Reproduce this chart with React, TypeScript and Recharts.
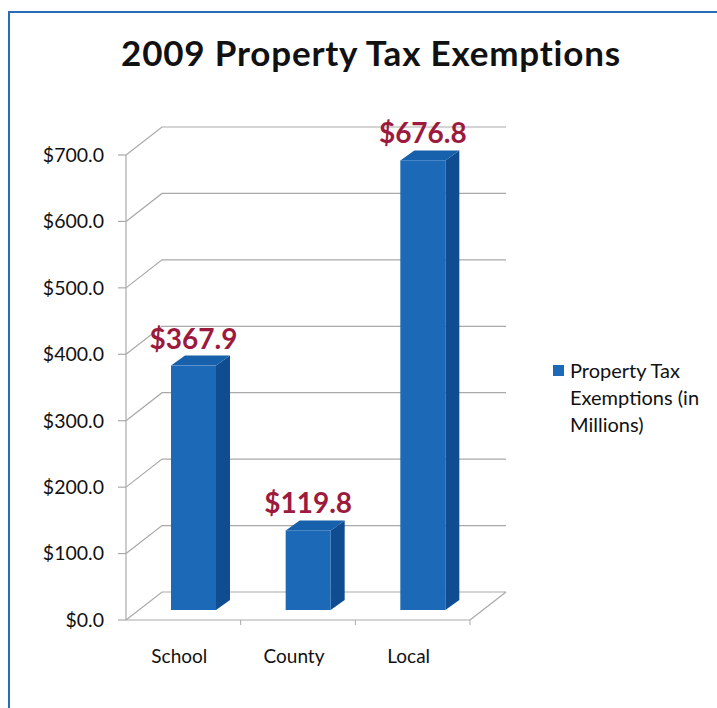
import React from 'react';
import { BarChart, Bar, XAxis, YAxis, CartesianGrid, Legend, LabelList } from 'recharts';

const categories = ['School', 'County', 'Local'];
const values = [367.9, 119.8, 676.8];
const yTicks = [0, 100, 200, 300, 400, 500, 600, 700];
const seriesName = 'Property Tax Exemptions (in Millions)';
const title = '2009 Property Tax Exemptions';

const data = categories.map((c, i) => ({ name: c, value: values[i] }));

const FONT = 'Lato, "Liberation Sans", sans-serif';
const GRID = '#a9a9a9';
const WALL_DX = 36;
const WALL_DY = -28;
const BAR_DX = 10;
const BAR_DY = -10;
const DEPTH_X = 14;
const DEPTH_Y = -10;
const PLOT_BOTTOM = 620;

const Bar3D = (props: any) => {
  const { x, y, width, height } = props;
  const fx = x + BAR_DX;
  const fy = y + BAR_DY;
  const w = width;
  const h = height;
  return (
    <g>
      <polygon
        points={`${fx + w},${fy} ${fx + w + DEPTH_X},${fy + DEPTH_Y} ${fx + w + DEPTH_X},${fy + h + DEPTH_Y} ${fx + w},${fy + h}`}
        fill="#0f4d90"
      />
      <polygon
        points={`${fx},${fy} ${fx + DEPTH_X},${fy + DEPTH_Y} ${fx + w + DEPTH_X},${fy + DEPTH_Y} ${fx + w},${fy}`}
        fill="#1760ab"
      />
      <rect x={fx} y={fy} width={w} height={h} fill="#1c69b8" />
    </g>
  );
};

const renderLabel = (props: any) => {
  const { x, y, width, value } = props;
  return (
    <text
      x={x + BAR_DX + width / 2}
      y={y + BAR_DY - 17}
      textAnchor="middle"
      fill="#9b1a3e"
      fontFamily={FONT}
      fontWeight={700}
      fontSize={28}
    >
      {'$' + Number(value).toFixed(1)}
    </text>
  );
};

const renderGridLine = (p: any) => {
  const { x1, x2, y1 } = p;
  const isFloor = Math.abs(y1 - PLOT_BOTTOM) < 1;
  const n = categories.length;
  return (
    <g key={p.key}>
      <polyline
        points={`${x1},${y1} ${x1 + WALL_DX},${y1 + WALL_DY} ${x2 + WALL_DX},${y1 + WALL_DY}`}
        fill="none"
        stroke={GRID}
        strokeWidth={1.2}
      />
      {isFloor && (
        <g>
          <line x1={x1} y1={y1} x2={x2} y2={y1} stroke={GRID} strokeWidth={1.2} />
          <line x1={x2} y1={y1} x2={x2 + WALL_DX} y2={y1 + WALL_DY} stroke={GRID} strokeWidth={1.2} />
          {Array.from({ length: n }, (_, k) => {
            const tx = x1 + ((k + 1) * (x2 - x1)) / n;
            return <line key={k} x1={tx} y1={y1} x2={tx} y2={y1 + 5} stroke={GRID} strokeWidth={1} />;
          })}
        </g>
      )}
    </g>
  );
};

const XTick = (props: any) => {
  const { x, payload } = props;
  return (
    <text x={x - 4} y={PLOT_BOTTOM + 43} textAnchor="middle" fill="#111" fontFamily={FONT} fontSize={19}>
      {payload.value}
    </text>
  );
};

const LegendContent = () => (
  <div style={{ display: 'flex', alignItems: 'flex-start', fontFamily: FONT, fontSize: 20, lineHeight: '27px', color: '#111', textAlign: 'left' }}>
    <div style={{ width: 11, height: 11, background: '#1c69b8', marginTop: 8, marginRight: 6, flex: 'none' }} />
    <div style={{ width: 140 }}>{seriesName}</div>
  </div>
);

export default function App() {
  return (
    <div style={{ position: 'absolute', left: 0, top: 0, width: 717, height: 708, background: '#fff', overflow: 'hidden' }}>
      <div
        style={{
          position: 'absolute',
          left: 8,
          top: 11,
          width: 720,
          height: 720,
          borderLeft: '2px solid #2a6db5',
          borderTop: '2px solid #2a6db5',
        }}
      />
      <div
        style={{
          position: 'absolute',
          left: 0,
          width: 742,
          top: 31,
          textAlign: 'center',
          fontFamily: FONT,
          fontWeight: 700,
          fontSize: 35,
          letterSpacing: 0.8,
          color: '#111',
          lineHeight: '42px',
        }}
      >
        {title}
      </div>
      <div style={{ position: 'absolute', left: 0, top: 0 }}>
        <BarChart width={717} height={708} data={data} margin={{ top: 155, right: 247, bottom: 38, left: 0 }} barSize={45}>
          <CartesianGrid vertical={false} horizontal={renderGridLine} />
          <XAxis dataKey="name" axisLine={false} tickLine={false} tickSize={0} height={50} tick={<XTick />} interval={0} />
          <YAxis
            width={126}
            domain={[0, 700]}
            ticks={yTicks}
            interval={0}
            tickFormatter={(v: number) => '$' + v.toFixed(1)}
            axisLine={{ stroke: GRID, strokeWidth: 1.2 }}
            tickLine={{ stroke: GRID, strokeWidth: 1.2 }}
            tickSize={8}
            tickMargin={14}
            tick={{ fill: '#111', fontFamily: FONT, fontSize: 19.5 }}
          />
          <Legend
            layout="horizontal"
            verticalAlign="middle"
            align="center"
            wrapperStyle={{ left: 553, top: 357, width: 165 }}
            content={<LegendContent />}
          />
          <Bar dataKey="value" name={seriesName} shape={<Bar3D />} isAnimationActive={false}>
            <LabelList dataKey="value" content={renderLabel} />
          </Bar>
        </BarChart>
      </div>
    </div>
  );
}
